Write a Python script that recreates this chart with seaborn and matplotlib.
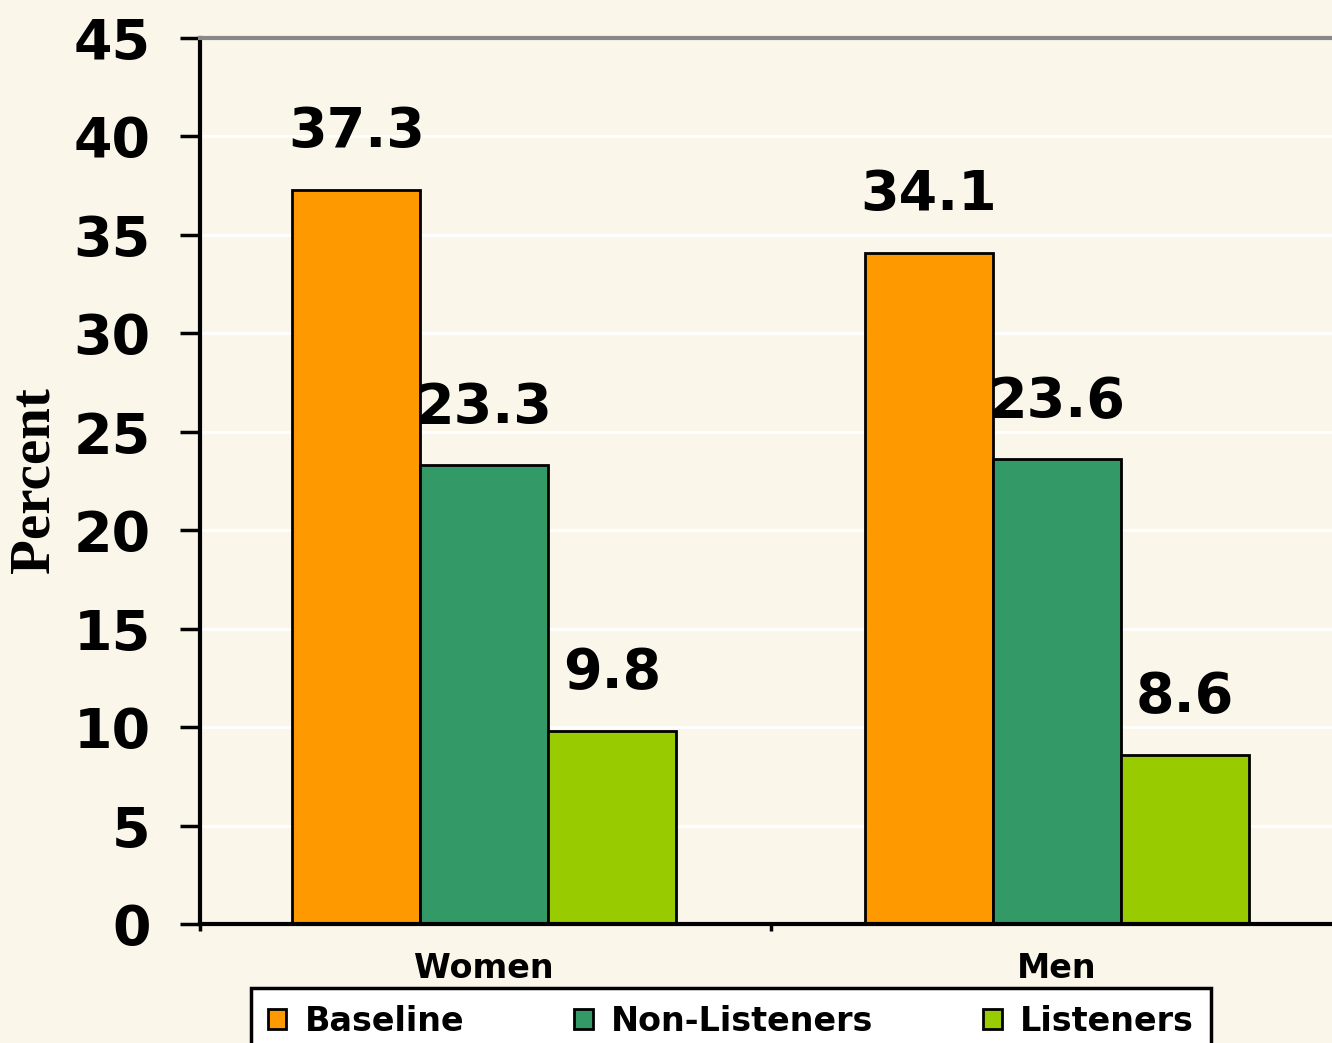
import pandas as pd
import matplotlib.pyplot as plt
import seaborn as sns

# values
groups = ['Women', 'Men']
series = ['Baseline', 'Non-Listeners', 'Listeners']
baseline = [37.3, 34.1]
non_listeners = [23.3, 23.6]
listeners = [9.8, 8.6]
y_ticks = [0, 5, 10, 15, 20, 25, 30, 35, 40, 45]

colors = ['#FF9900', '#339966', '#99CC00']
bg = '#FBF6EA'

rows = []
for name, vals in zip(series, [baseline, non_listeners, listeners]):
    for g, v in zip(groups, vals):
        rows.append({'Group': g, 'Series': name, 'Percent': v})
df = pd.DataFrame(rows)

sns.set_theme(style='white')
plt.rcParams['font.family'] = ['DejaVu Sans']
plt.rcParams['text.color'] = 'black'

fig = plt.figure(figsize=(13.32, 10.43), dpi=100, facecolor=bg)
ax = fig.add_axes([200 / 1332, 1 - 924 / 1043, 1132 / 1332, 886 / 1043])
ax.set_facecolor(bg)

sns.barplot(data=df, x='Group', y='Percent', hue='Series', hue_order=series,
            order=groups, palette=colors, width=0.67, edgecolor='black',
            linewidth=2, saturation=1, ax=ax)

for c in ax.containers:
    ax.bar_label(c, labels=[f'{v:.1f}' for v in c.datavalues], padding=22,
                 fontsize=40, fontweight='bold', color='black')

ax.set_ylim(0, 45)
ax.set_xlim(-0.496, 1.48)
ax.set_yticks(y_ticks)
ax.set_yticklabels([str(t) for t in y_ticks], fontsize=40, fontweight='bold')
ax.tick_params(axis='y', left=True, length=14.5, width=2.5, color='black',
               pad=21, colors='black')
ax.set_xticks([0, 1])
ax.set_xticklabels(groups, fontsize=24, fontweight='bold')
ax.tick_params(axis='x', which='major', length=0, pad=20, colors='black')
ax.set_xticks([-0.496, 0.5], minor=True)
ax.tick_params(axis='x', which='minor', bottom=True, length=5, width=2.5,
               color='black')

ax.grid(axis='y', color='white', linewidth=2)
ax.set_axisbelow(True)
ax.set_xlabel('')
ax.set_ylabel('')
for side in ['left', 'bottom']:
    ax.spines[side].set_color('black')
    ax.spines[side].set_linewidth(3)
ax.spines['right'].set_visible(False)
ax.spines['top'].set_color('#888888')
ax.spines['top'].set_linewidth(3)

fig.text(35 / 1332, 1 - 480 / 1043, 'Percent', rotation=90, ha='center',
         va='center', fontsize=41, fontweight='bold', color='black',
         family='Liberation Serif')

handles, labels = ax.get_legend_handles_labels()
ax.legend_.remove()
leg = fig.legend(handles, labels, loc='upper center', ncol=3,
                 bbox_to_anchor=(731 / 1332, 1 - 988 / 1043),
                 prop={'size': 24, 'weight': 'bold'}, frameon=True,
                 fancybox=False, handlelength=0.55, handleheight=0.55,
                 handletextpad=0.55, columnspacing=3.3, borderpad=0.5,
                 borderaxespad=0, labelcolor='black', framealpha=1)
leg.get_frame().set_edgecolor('black')
leg.get_frame().set_linewidth(2.5)
leg.get_frame().set_facecolor('white')

fig.savefig('out.png', dpi=100, facecolor=bg)
